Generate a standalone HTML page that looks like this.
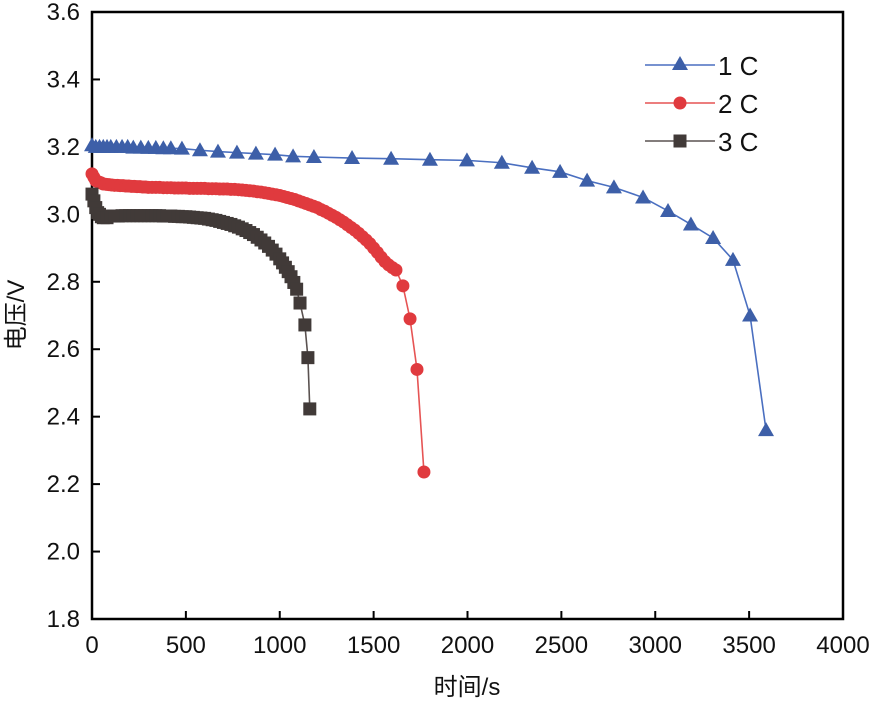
<!DOCTYPE html>
<html><head><meta charset="utf-8"><style>
html,body{margin:0;padding:0;background:#fff;}
svg text{font-family:"Liberation Sans","Noto Sans CJK SC",sans-serif;fill:#111;}
</style></head><body>
<svg id="chart" width="873" height="701" viewBox="0 0 873 701" xmlns="http://www.w3.org/2000/svg"></svg>
<script>
const xTicks=[0,500,1000,1500,2000,2500,3000,3500,4000];
const yTicks=[1.8,2.0,2.2,2.4,2.6,2.8,3.0,3.2,3.4,3.6];
const seriesNames=["1 C","2 C","3 C"];
const t1=[0,20,40,60,80,100,130,160,190,220,260,300,340,380,420,479,575,671,772,873,975,1071,1182,1385,1593,1800,1997,2183,2344,2493,2637,2780,2935,3068,3190,3308,3414,3505,3590];
const v1=[3.205,3.20,3.20,3.20,3.20,3.20,3.20,3.20,3.20,3.198,3.198,3.197,3.197,3.196,3.196,3.195,3.19,3.186,3.183,3.18,3.177,3.172,3.17,3.167,3.165,3.162,3.16,3.153,3.138,3.126,3.10,3.08,3.05,3.01,2.97,2.93,2.865,2.70,2.36];
const t2=[0,10,20,30,40,50,60,75,90,105,120,135,150,165,180,195,210,225,240,255,270,285,300,320,340,360,380,400,420,440,460,480,500,520,540,560,580,600,620,640,660,680,700,720,740,760,780,800,820,840,860,880,900,920,940,960,980,1000,1020,1040,1060,1080,1100,1120,1140,1160,1180,1200,1220,1240,1260,1280,1300,1320,1340,1360,1380,1400,1420,1440,1460,1480,1500,1520,1540,1560,1580,1600,1619,1656,1694,1731,1768];
const v2=[3.12,3.11,3.10,3.097,3.095,3.093,3.09,3.089,3.088,3.087,3.086,3.086,3.085,3.085,3.084,3.084,3.083,3.083,3.082,3.082,3.081,3.081,3.08,3.08,3.08,3.08,3.079,3.079,3.079,3.078,3.078,3.078,3.078,3.077,3.077,3.077,3.077,3.077,3.076,3.076,3.076,3.075,3.075,3.075,3.074,3.074,3.073,3.072,3.071,3.07,3.069,3.067,3.066,3.064,3.062,3.06,3.058,3.056,3.053,3.05,3.047,3.044,3.04,3.036,3.032,3.028,3.024,3.02,3.014,3.009,3.003,2.997,2.991,2.984,2.977,2.969,2.961,2.953,2.944,2.934,2.924,2.913,2.90,2.887,2.873,2.86,2.85,2.842,2.835,2.788,2.69,2.54,2.236];
const t3=[0,10,20,30,40,50,60,80,100,120,140,160,180,200,220,240,260,280,300,320,340,360,380,400,420,440,460,480,500,520,540,560,580,600,620,640,660,680,700,720,740,760,780,800,820,840,860,880,900,920,940,960,980,1000,1015,1030,1045,1060,1075,1090,1108,1134,1150];
const v3=[3.06,3.04,3.02,3.005,3.00,2.993,2.99,2.99,2.995,2.995,2.995,2.996,2.996,2.996,2.996,2.996,2.996,2.996,2.996,2.996,2.996,2.996,2.995,2.995,2.995,2.994,2.994,2.993,2.993,2.992,2.991,2.99,2.989,2.988,2.986,2.984,2.982,2.979,2.976,2.973,2.97,2.966,2.962,2.957,2.952,2.946,2.94,2.932,2.924,2.915,2.905,2.894,2.882,2.868,2.856,2.843,2.83,2.815,2.798,2.778,2.737,2.672,2.575];
const t3end=[1160];const v3end=[2.423];

const L=92,R=843,T=12,B=619;
const X=t=>L+(t-0)/(4000-0)*(R-L);
const Y=v=>B-(v-1.8)/(3.6-1.8)*(B-T);
const svg=document.getElementById('chart');
const NS='http://www.w3.org/2000/svg';
function mk(tag,attrs,parent){const e=document.createElementNS(NS,tag);for(const k in attrs)e.setAttribute(k,attrs[k]);(parent||svg).appendChild(e);return e;}

const frame=mk('rect',{x:L,y:T,width:R-L,height:B-T,fill:'none',stroke:'#000','stroke-width':2.5});



xTicks.forEach(v=>{
  const tk=mk('line',{x1:X(v),x2:X(v),y1:B,y2:B-8,stroke:'#000','stroke-width':2});
  
  
  const tx=mk('text',{x:X(v),y:B+34,'font-size':24,'text-anchor':'middle'});
  tx.textContent=String(v);
  
  
});
yTicks.forEach(v=>{
  const tk=mk('line',{x1:L,x2:L+8,y1:Y(v),y2:Y(v),stroke:'#000','stroke-width':2});
  
  
  const tx=mk('text',{x:L-12,y:Y(v)+8,'font-size':24,'text-anchor':'end'});
  tx.textContent=v.toFixed(1);
  
  
});
const xl=mk('text',{x:467,y:695,'font-size':24,'text-anchor':'middle'});
xl.textContent='时间/s';


const yl=mk('text',{x:0,y:0,'font-size':24,'text-anchor':'middle',transform:'translate(24,315) rotate(-90)'});
yl.textContent='电压/V';



function marker(kind,x,y,color,g){
  let e;
  if(kind==='tri') e=mk('polygon',{points:`${x},${y-8} ${x-8},${y+6} ${x+8},${y+6}`,fill:color},g);
  else if(kind==='circ') e=mk('circle',{cx:x,cy:y,r:6.5,fill:color},g);
  else e=mk('rect',{x:x-6.5,y:y-6.5,width:13,height:13,fill:color},g);
  return e;
}
function series(ts,vs,color,mcol,kind,name){
  const g=mk('g',{});
  
  
  const ln=mk('polyline',{points:ts.map((t,i)=>X(t)+','+Y(vs[i])).join(' '),fill:'none',stroke:color,'stroke-width':1.6},g);
  
  
  ts.forEach((t,i)=>{
    const m=marker(kind,X(t),Y(vs[i]),mcol,g);
    
    
  });
}
series(t1,v1,'#4a6fc0','#3d5fa8','tri','series-1c');
series(t2,v2,'#e65454','#e03a3e','circ','series-2c');
series(t3.concat(t3end),v3.concat(v3end),'#5a5250','#413a38','sq','series-3c');

const legend=[['tri','#4a6fc0','#3d5fa8',65],['circ','#e65454','#e03a3e',103],['sq','#5a5250','#413a38',141]];
legend.forEach((l,i)=>{
  const g=mk('g',{});
  
  
  mk('line',{x1:645,x2:715,y1:l[3],y2:l[3],stroke:l[1],'stroke-width':1.6},g);
  marker(l[0],680,l[3]+(l[0]==='tri'?-1:0),l[2],g);
  const tx=mk('text',{x:718,y:l[3]+10,'font-size':26},g);
  tx.textContent=seriesNames[i];
});
</script>
</body></html>
